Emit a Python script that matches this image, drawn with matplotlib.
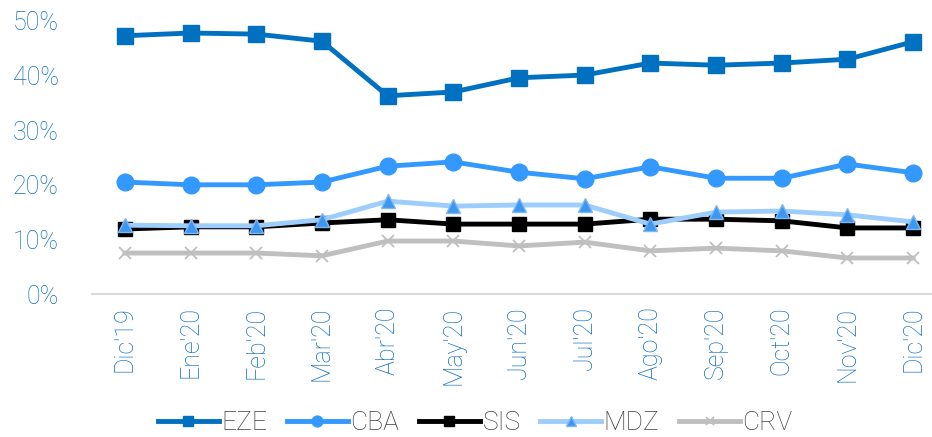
import matplotlib
matplotlib.use("Agg")
import matplotlib.pyplot as plt
from matplotlib.ticker import FuncFormatter

months = ["Dic'19", "Ene'20", "Feb'20", "Mar'20", "Abr'20", "May'20", "Jun'20",
          "Jul'20", "Ago'20", "Sep'20", "Oct'20", "Nov'20", "Dic'20"]
eze = [47.3, 47.8, 47.6, 46.3, 36.3, 37.0, 39.6, 40.1, 42.3, 41.9, 42.3, 43.0, 46.2]
cba = [20.5, 20.0, 20.0, 20.5, 23.4, 24.2, 22.3, 21.1, 23.3, 21.2, 21.2, 23.8, 22.2]
sis = [11.9, 12.3, 12.3, 13.0, 13.6, 12.8, 12.8, 12.8, 13.7, 13.7, 13.4, 12.1, 12.1]
mdz = [12.6, 12.5, 12.5, 13.6, 17.0, 16.1, 16.3, 16.3, 12.8, 15.0, 15.2, 14.5, 13.2]
crv = [7.5, 7.5, 7.5, 7.0, 9.7, 9.7, 8.8, 9.5, 7.9, 8.4, 7.9, 6.6, 6.6]
yticks = [0, 10, 20, 30, 40, 50]

plt.rcParams['font.family'] = ['Roboto', 'DejaVu Sans']

fig = plt.figure(figsize=(9.32, 4.37), dpi=100)
ax = fig.add_axes([92/932, 1-294/437, (946-92)/932, (294-21)/437])

x = list(range(len(months)))
ax.plot(x, crv, color='#BFBFBF', lw=3.5, marker='x', ms=8, mew=1.3, label='CRV', zorder=2)
ax.plot(x, mdz, color='#9DCDFB', lw=3.5, marker='^', ms=10, mfc='#3D97EE', mec='#7DB8F5', label='MDZ', zorder=3)
ax.plot(x, sis, color='#000000', lw=3.5, marker='s', ms=10, label='SIS', zorder=2.5)
ax.plot(x, cba, color='#3399FF', lw=3.5, marker='o', ms=12, label='CBA', zorder=4)
ax.plot(x, eze, color='#0070C0', lw=3.5, marker='s', ms=12, label='EZE', zorder=5)

ax.set_xlim(-0.5, 12.5)
ax.set_ylim(0, 50)
ax.set_yticks(yticks)
ax.yaxis.set_major_formatter(FuncFormatter(lambda v, p: f"{int(v)}%"))
ax.set_xticks(x)
ax.set_xticklabels(months, rotation=90)
for s in ['top', 'right', 'left']:
    ax.spines[s].set_visible(False)
ax.spines['bottom'].set_color('#D9D9D9')
ax.spines['bottom'].set_linewidth(1.5)
ax.tick_params(axis='both', length=0, colors='#0E6FBE', labelsize=18)
ax.tick_params(axis='y', pad=24)
ax.tick_params(axis='x', pad=9)
for lab in ax.get_xticklabels() + ax.get_yticklabels():
    lab.set_fontweight('light')

handles, labels = ax.get_legend_handles_labels()
order = ['EZE', 'CBA', 'SIS', 'MDZ', 'CRV']
hmap = dict(zip(labels, handles))
leg = fig.legend([hmap[k] for k in order], order, loc='center', bbox_to_anchor=(0.51, 1-423/437),
                 ncol=5, frameon=False, fontsize=19, handlelength=2.3, columnspacing=0.75,
                 handletextpad=0.1, markerscale=0.65)
for t in leg.get_texts():
    t.set_color('#3F3F3F')
    t.set_fontweight('light')

fig.savefig('out.png', dpi=100)
